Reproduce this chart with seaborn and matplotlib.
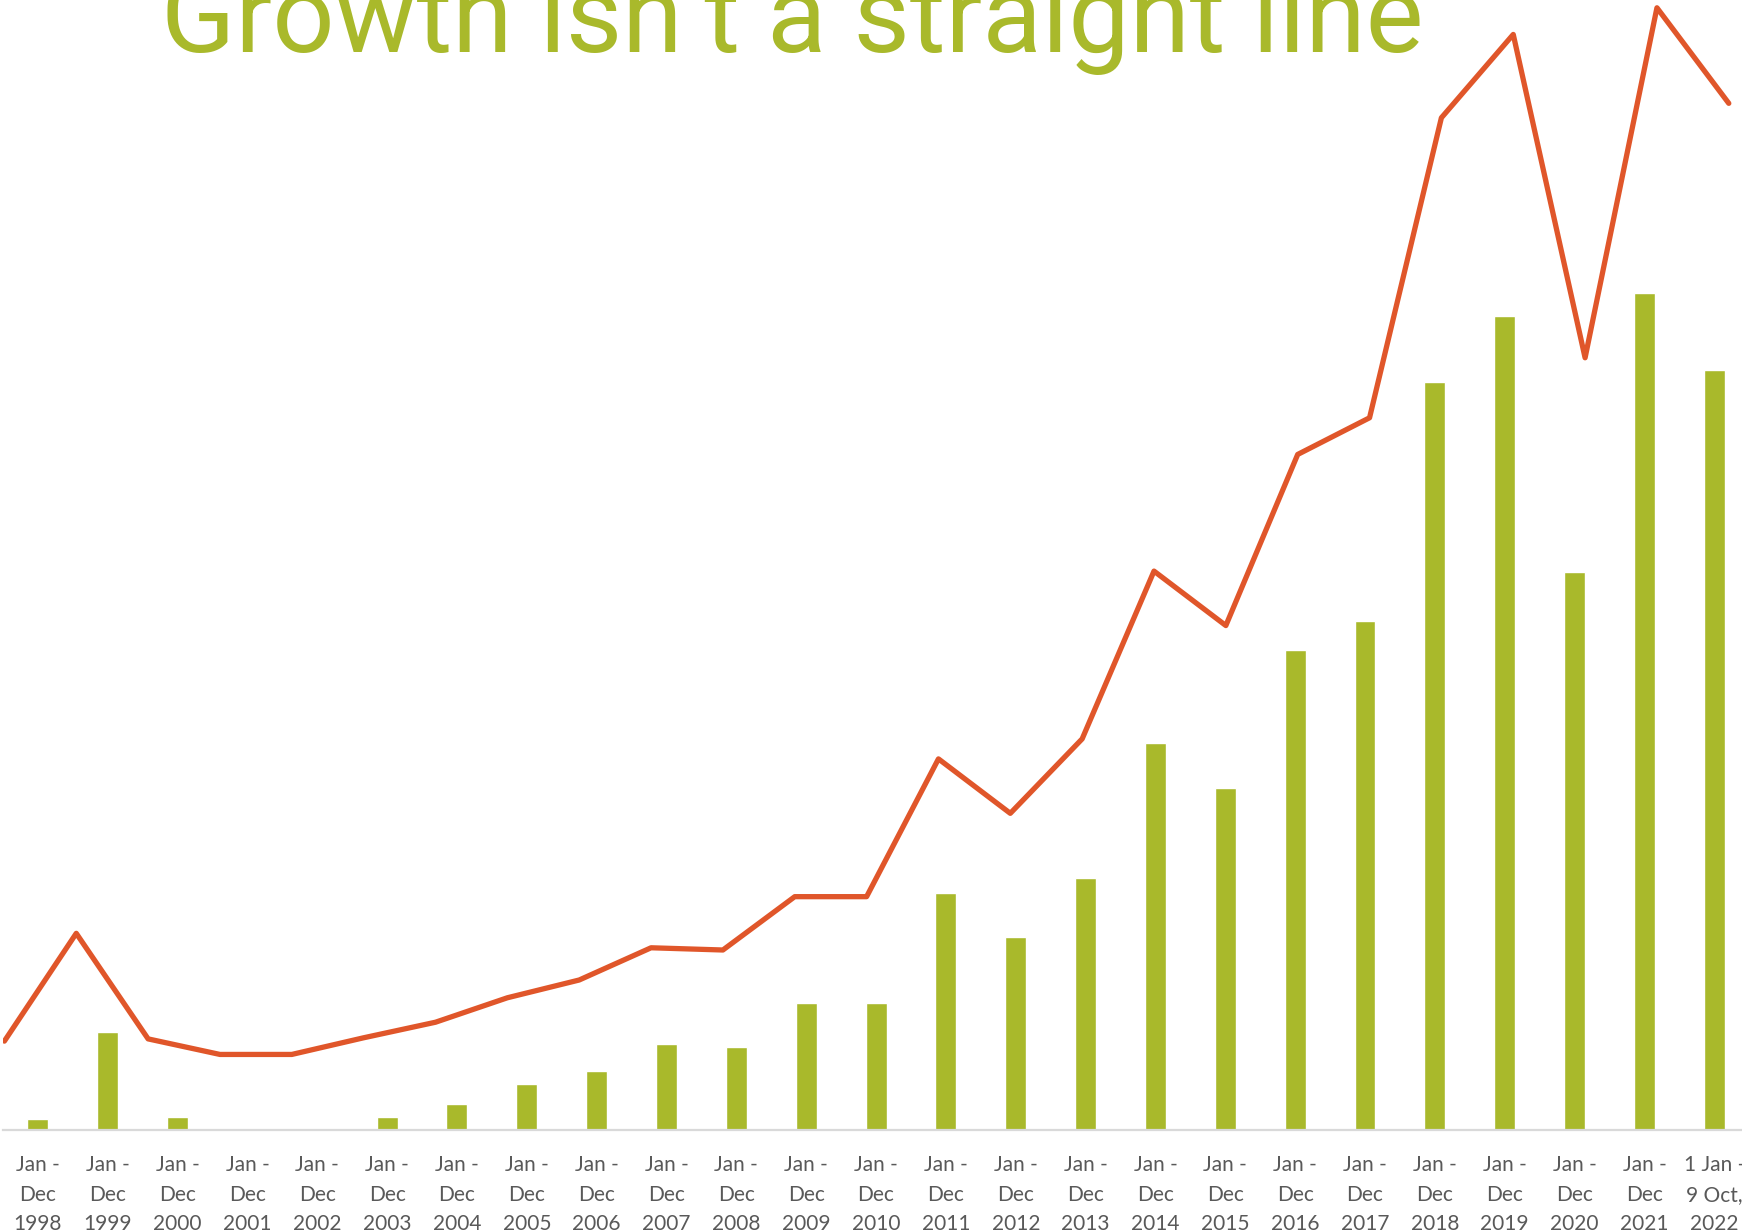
import pandas as pd
import matplotlib
matplotlib.use("Agg")
import matplotlib.pyplot as plt
import seaborn as sns

# periods shown on the x axis
periods = ["Jan -\nDec\n%d" % y for y in range(1998, 2022)] + ["1 Jan -\n9 Oct,\n2022"]

# bar series (arbitrary units)
bar_values = [10, 88, 12, 0, 0, 12, 23, 41, 53, 77, 75, 114, 114, 213, 174, 227,
              348, 308, 432, 458, 673, 733, 502, 753, 684]

# line series (same units)
line_values = [80, 177, 82, 68, 68, 83, 97, 119, 135, 164, 162, 210, 210, 334, 285, 352,
               503, 454, 608, 641, 911, 986, 695, 1010, 924]

title = "Growth isn’t a straight line"

green = "#A9B92B"
orange = "#E0562A"
grey_text = "#595959"

sns.set_theme(style="white")
plt.rcParams['font.family'] = ['Lato', 'DejaVu Sans']

df = pd.DataFrame({"period": periods, "bars": bar_values})

fig = plt.figure(figsize=(17.42, 12.32), dpi=100)
# the reference is a crop, so the axes run a little past the right edge
ax = fig.add_axes([2.9 / 1742, 102 / 1232, 1746.3 / 1742, 1130 / 1232])

sns.barplot(data=df, x="period", y="bars", color=green, saturation=1,
            width=0.3, ax=ax)
ax.set_xlim(-0.5, 24.5)
ax.set_ylim(0, 1017)
ax.set_xticks(range(len(periods)))
ax.set_xticklabels(periods, linespacing=1.6, fontsize=15, color=grey_text)

# line sits on its own category axis (spread a bit wider than the bars)
ax2 = ax.twiny()
sns.lineplot(x=list(range(len(line_values))), y=line_values, ax=ax2, color=orange,
             linewidth=3.8, solid_capstyle="round", solid_joinstyle="round")
ax2.set_xlim(-0.021, 24.284)
ax.set_ylim(0, 1017)

for a in (ax, ax2):
    for s in ["top", "right", "left"]:
        a.spines[s].set_visible(False)
    a.set_xlabel("")
    a.set_ylabel("")
    a.set_yticks([])
ax2.spines["bottom"].set_visible(False)
ax2.set_xticks([])

ax.spines["bottom"].set_color("#D9D9D9")
ax.spines["bottom"].set_linewidth(1.6)
ax.tick_params(axis="x", length=0, pad=18)

t = fig.text(792.7 / 1742, 1 - 52 / 1232, title, color=green, ha="center",
             va="baseline", fontsize=80, family=["Roboto", "DejaVu Sans"])
# fit the title width to the reference (about 1263 px)
fig.canvas.draw()
w = t.get_window_extent().width
t.set_fontsize(80 * 1263 / w)

fig.savefig("out.png", dpi=100)
